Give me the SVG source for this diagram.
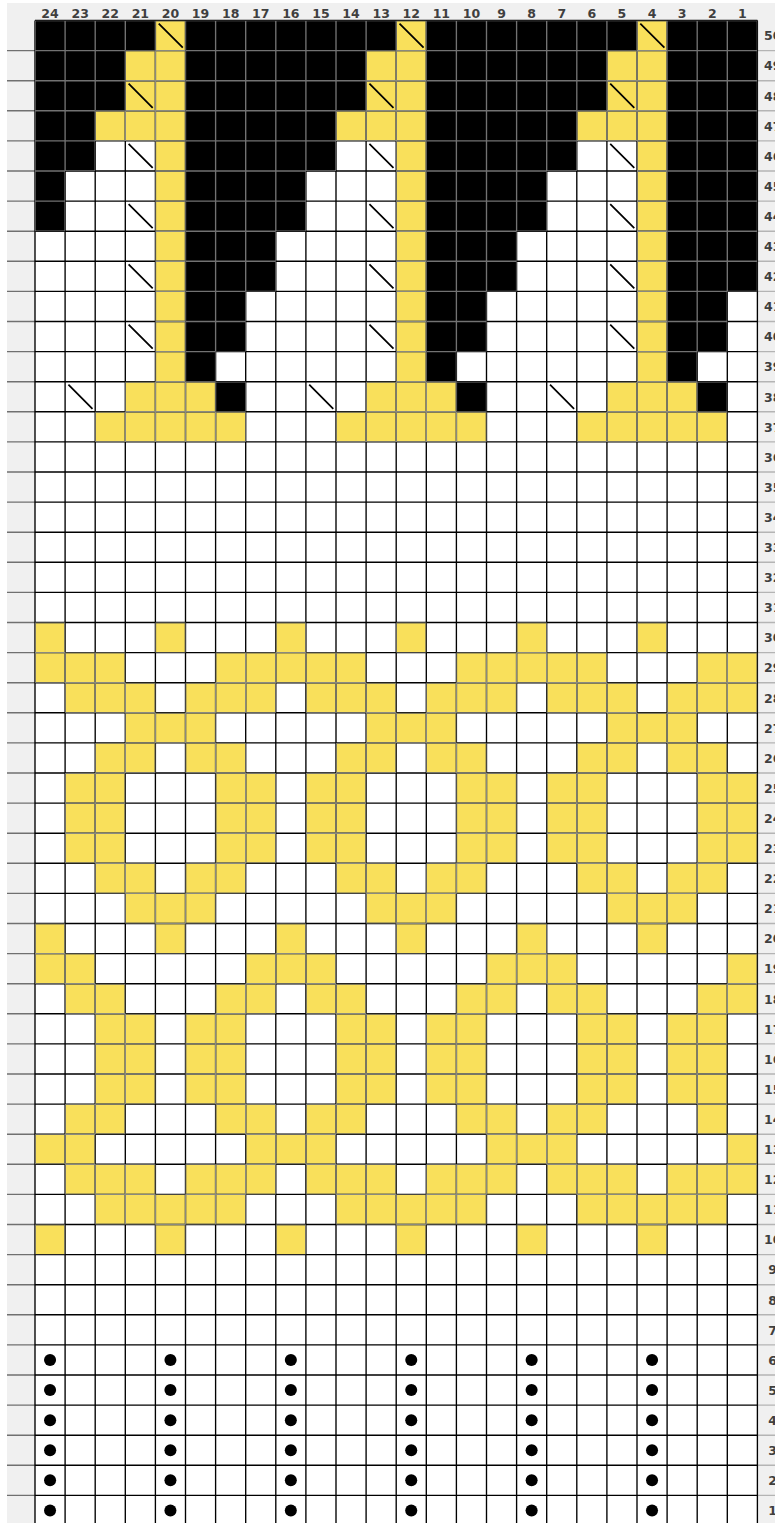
<svg xmlns="http://www.w3.org/2000/svg" width="775" height="1523" viewBox="0 0 775 1523">
<style>
.lbl{font-family:"DejaVu Sans",Verdana,sans-serif;font-weight:bold;font-size:12.5px;fill:#3f3f3f;text-anchor:middle}
.gl{fill:none;stroke-width:0.045}
</style>
<defs>
<path id="yel" d="M4 0h1v12h-1zM12 0h1v12h-1zM20 0h1v12h-1zM3 1h1v2h-1zM11 1h1v2h-1zM19 1h1v2h-1zM2 3h2v1h-2zM10 3h2v1h-2zM18 3h2v1h-2zM3 12h3v1h-3zM11 12h3v1h-3zM19 12h3v1h-3zM2 13h5v1h-5zM10 13h5v1h-5zM18 13h5v1h-5zM0 20h1v1h-1zM4 20h1v1h-1zM8 20h1v1h-1zM12 20h1v1h-1zM16 20h1v1h-1zM20 20h1v1h-1zM0 21h3v1h-3zM6 21h5v1h-5zM14 21h5v1h-5zM22 21h2v1h-2zM1 22h3v1h-3zM5 22h3v1h-3zM9 22h3v1h-3zM13 22h3v1h-3zM17 22h3v1h-3zM21 22h3v1h-3zM3 23h3v1h-3zM11 23h3v1h-3zM19 23h3v1h-3zM2 24h2v1h-2zM5 24h2v1h-2zM10 24h2v1h-2zM13 24h2v1h-2zM18 24h2v1h-2zM21 24h2v1h-2zM1 25h2v3h-2zM6 25h2v3h-2zM9 25h2v3h-2zM14 25h2v3h-2zM17 25h2v3h-2zM22 25h2v3h-2zM2 28h2v1h-2zM5 28h2v1h-2zM10 28h2v1h-2zM13 28h2v1h-2zM18 28h2v1h-2zM21 28h2v1h-2zM3 29h3v1h-3zM11 29h3v1h-3zM19 29h3v1h-3zM0 30h1v1h-1zM4 30h1v1h-1zM8 30h1v1h-1zM12 30h1v1h-1zM16 30h1v1h-1zM20 30h1v1h-1zM0 31h2v1h-2zM7 31h3v1h-3zM15 31h3v1h-3zM23 31h1v1h-1zM1 32h2v1h-2zM6 32h2v1h-2zM9 32h2v1h-2zM14 32h2v1h-2zM17 32h2v1h-2zM22 32h2v1h-2zM2 33h2v3h-2zM5 33h2v3h-2zM10 33h2v3h-2zM13 33h2v3h-2zM18 33h2v3h-2zM21 33h2v3h-2zM1 36h2v1h-2zM6 36h2v1h-2zM9 36h2v1h-2zM14 36h2v1h-2zM17 36h2v1h-2zM22 36h1v1h-1zM0 37h2v1h-2zM7 37h3v1h-3zM15 37h3v1h-3zM23 37h1v1h-1zM1 38h3v1h-3zM5 38h3v1h-3zM9 38h3v1h-3zM13 38h3v1h-3zM17 38h3v1h-3zM21 38h3v1h-3zM2 39h5v1h-5zM10 39h5v1h-5zM18 39h5v1h-5zM0 40h1v1h-1zM4 40h1v1h-1zM8 40h1v1h-1zM12 40h1v1h-1zM16 40h1v1h-1zM20 40h1v1h-1z"/>
<path id="blk" d="M0 0h1v7h-1zM1 0h1v5h-1zM2 0h1v3h-1zM3 0h1v1h-1zM5 0h1v12h-1zM6 0h1v11h-1zM6 12h1v1h-1zM7 0h1v9h-1zM8 0h1v7h-1zM9 0h1v5h-1zM10 0h1v3h-1zM11 0h1v1h-1zM13 0h1v12h-1zM14 0h1v11h-1zM14 12h1v1h-1zM15 0h1v9h-1zM16 0h1v7h-1zM17 0h1v5h-1zM18 0h1v3h-1zM19 0h1v1h-1zM21 0h1v12h-1zM22 0h1v11h-1zM22 12h1v1h-1zM23 0h1v9h-1z"/>
<path id="grid" d="M0 0v50m1-50v50m1-50v50m1-50v50m1-50v50m1-50v50m1-50v50m1-50v50m1-50v50m1-50v50m1-50v50m1-50v50m1-50v50m1-50v50m1-50v50m1-50v50m1-50v50m1-50v50m1-50v50m1-50v50m1-50v50m1-50v50m1-50v50m1-50v50m1-50v50M0 0h24m-24 1h24m-24 1h24m-24 1h24m-24 1h24m-24 1h24m-24 1h24m-24 1h24m-24 1h24m-24 1h24m-24 1h24m-24 1h24m-24 1h24m-24 1h24m-24 1h24m-24 1h24m-24 1h24m-24 1h24m-24 1h24m-24 1h24m-24 1h24m-24 1h24m-24 1h24m-24 1h24m-24 1h24m-24 1h24m-24 1h24m-24 1h24m-24 1h24m-24 1h24m-24 1h24m-24 1h24m-24 1h24m-24 1h24m-24 1h24m-24 1h24m-24 1h24m-24 1h24m-24 1h24m-24 1h24m-24 1h24m-24 1h24m-24 1h24m-24 1h24m-24 1h24m-24 1h24m-24 1h24m-24 1h24m-24 1h24m-24 1h24m-24 1h24"/>
<clipPath id="cy"><use href="#yel"/></clipPath>
<clipPath id="ck"><use href="#blk"/></clipPath>
</defs>
<rect width="775" height="1523" fill="#fff"/>
<rect x="7" y="3" width="768" height="1520" fill="#f0f0f0"/>
<g id="chart" transform="translate(35 20.5) scale(30.1)">
<rect width="24" height="50.2" fill="#fff"/>
<use href="#yel" fill="#F9E05B"/>
<use href="#blk" fill="#000"/>
<path class="gl" stroke="#707070" d="M-0.93 1h0.93m-0.93 1h0.93m-0.93 1h0.93m-0.93 1h0.93m-0.93 1h0.93m-0.93 1h0.93m-0.93 1h0.93m-0.93 1h0.93m-0.93 1h0.93m-0.93 1h0.93m-0.93 1h0.93m-0.93 1h0.93m-0.93 1h0.93m-0.93 1h0.93m-0.93 1h0.93m-0.93 1h0.93m-0.93 1h0.93m-0.93 1h0.93m-0.93 1h0.93m-0.93 1h0.93m-0.93 1h0.93m-0.93 1h0.93m-0.93 1h0.93m-0.93 1h0.93m-0.93 1h0.93m-0.93 1h0.93m-0.93 1h0.93m-0.93 1h0.93m-0.93 1h0.93m-0.93 1h0.93m-0.93 1h0.93m-0.93 1h0.93m-0.93 1h0.93m-0.93 1h0.93m-0.93 1h0.93m-0.93 1h0.93m-0.93 1h0.93m-0.93 1h0.93m-0.93 1h0.93m-0.93 1h0.93m-0.93 1h0.93m-0.93 1h0.93m-0.93 1h0.93m-0.93 1h0.93m-0.93 1h0.93m-0.93 1h0.93m-0.93 1h0.93m-0.93 1h0.93m-0.93 1h0.93"/>
<path class="gl" stroke="#b4b4b4" d="M24 1h0.6m-0.6 1h0.6m-0.6 1h0.6m-0.6 1h0.6m-0.6 1h0.6m-0.6 1h0.6m-0.6 1h0.6m-0.6 1h0.6m-0.6 1h0.6m-0.6 1h0.6m-0.6 1h0.6m-0.6 1h0.6m-0.6 1h0.6m-0.6 1h0.6m-0.6 1h0.6m-0.6 1h0.6m-0.6 1h0.6m-0.6 1h0.6m-0.6 1h0.6m-0.6 1h0.6m-0.6 1h0.6m-0.6 1h0.6m-0.6 1h0.6m-0.6 1h0.6m-0.6 1h0.6m-0.6 1h0.6m-0.6 1h0.6m-0.6 1h0.6m-0.6 1h0.6m-0.6 1h0.6m-0.6 1h0.6m-0.6 1h0.6m-0.6 1h0.6m-0.6 1h0.6m-0.6 1h0.6m-0.6 1h0.6m-0.6 1h0.6m-0.6 1h0.6m-0.6 1h0.6m-0.6 1h0.6m-0.6 1h0.6m-0.6 1h0.6m-0.6 1h0.6m-0.6 1h0.6m-0.6 1h0.6m-0.6 1h0.6m-0.6 1h0.6m-0.6 1h0.6m-0.6 1h0.6"/>
<use href="#grid" class="gl" stroke="#000"/>
<use href="#grid" class="gl" stroke="#8a8a80" clip-path="url(#cy)"/>
<use href="#grid" class="gl" stroke="#727272" clip-path="url(#ck)"/>
<path id="decreases" fill="none" stroke="#000" stroke-width="0.058" d="M4.11 0.1l0.8 0.8M12.11 0.1l0.8 0.8M20.11 0.1l0.8 0.8M3.11 2.1l0.8 0.8M11.11 2.1l0.8 0.8M19.11 2.1l0.8 0.8M3.11 4.1l0.8 0.8M11.11 4.1l0.8 0.8M19.11 4.1l0.8 0.8M3.11 6.1l0.8 0.8M11.11 6.1l0.8 0.8M19.11 6.1l0.8 0.8M3.11 8.1l0.8 0.8M11.11 8.1l0.8 0.8M19.11 8.1l0.8 0.8M3.11 10.1l0.8 0.8M11.11 10.1l0.8 0.8M19.11 10.1l0.8 0.8M1.11 12.1l0.8 0.8M9.11 12.1l0.8 0.8M17.11 12.1l0.8 0.8"/>
<g id="dots" fill="#000">
<circle cx="0.5" cy="44.5" r="0.2"/><circle cx="0.5" cy="45.5" r="0.2"/><circle cx="0.5" cy="46.5" r="0.2"/><circle cx="0.5" cy="47.5" r="0.2"/><circle cx="0.5" cy="48.5" r="0.2"/><circle cx="0.5" cy="49.5" r="0.2"/>
</g>
<use href="#dots" x="4"/><use href="#dots" x="8"/><use href="#dots" x="12"/><use href="#dots" x="16"/><use href="#dots" x="20"/>
</g>
<g id="col-labels" class="lbl">
<text x="50.05" y="18">24</text><text x="80.15" y="18">23</text><text x="110.25" y="18">22</text><text x="140.35" y="18">21</text><text x="170.45" y="18">20</text><text x="200.55" y="18">19</text><text x="230.65" y="18">18</text><text x="260.75" y="18">17</text><text x="290.85" y="18">16</text><text x="320.95" y="18">15</text><text x="351.05" y="18">14</text><text x="381.15" y="18">13</text><text x="411.25" y="18">12</text><text x="441.35" y="18">11</text><text x="471.45" y="18">10</text><text x="501.55" y="18">9</text><text x="531.65" y="18">8</text><text x="561.75" y="18">7</text><text x="591.85" y="18">6</text><text x="621.95" y="18">5</text><text x="652.05" y="18">4</text><text x="682.15" y="18">3</text><text x="712.25" y="18">2</text><text x="742.35" y="18">1</text>
</g>
<g id="row-labels" class="lbl">
<text x="772.7" y="40.3">50</text><text x="772.7" y="70.4">49</text><text x="772.7" y="100.5">48</text><text x="772.7" y="130.6">47</text><text x="772.7" y="160.7">46</text><text x="772.7" y="190.8">45</text><text x="772.7" y="220.9">44</text><text x="772.7" y="251">43</text><text x="772.7" y="281.1">42</text><text x="772.7" y="311.2">41</text><text x="772.7" y="341.3">40</text><text x="772.7" y="371.4">39</text><text x="772.7" y="401.5">38</text><text x="772.7" y="431.6">37</text><text x="772.7" y="461.7">36</text><text x="772.7" y="491.8">35</text><text x="772.7" y="521.9">34</text><text x="772.7" y="552">33</text><text x="772.7" y="582.1">32</text><text x="772.7" y="612.2">31</text><text x="772.7" y="642.3">30</text><text x="772.7" y="672.4">29</text><text x="772.7" y="702.5">28</text><text x="772.7" y="732.6">27</text><text x="772.7" y="762.7">26</text><text x="772.7" y="792.8">25</text><text x="772.7" y="822.9">24</text><text x="772.7" y="853">23</text><text x="772.7" y="883.1">22</text><text x="772.7" y="913.2">21</text><text x="772.7" y="943.3">20</text><text x="772.7" y="973.4">19</text><text x="772.7" y="1003.5">18</text><text x="772.7" y="1033.6">17</text><text x="772.7" y="1063.7">16</text><text x="772.7" y="1093.8">15</text><text x="772.7" y="1123.9">14</text><text x="772.7" y="1154">13</text><text x="772.7" y="1184.1">12</text><text x="772.7" y="1214.2">11</text><text x="772.7" y="1244.3">10</text><text x="772.7" y="1274.4">9</text><text x="772.7" y="1304.5">8</text><text x="772.7" y="1334.6">7</text><text x="772.7" y="1364.7">6</text><text x="772.7" y="1394.8">5</text><text x="772.7" y="1424.9">4</text><text x="772.7" y="1455">3</text><text x="772.7" y="1485.1">2</text><text x="772.7" y="1515.2">1</text>
</g>
</svg>
